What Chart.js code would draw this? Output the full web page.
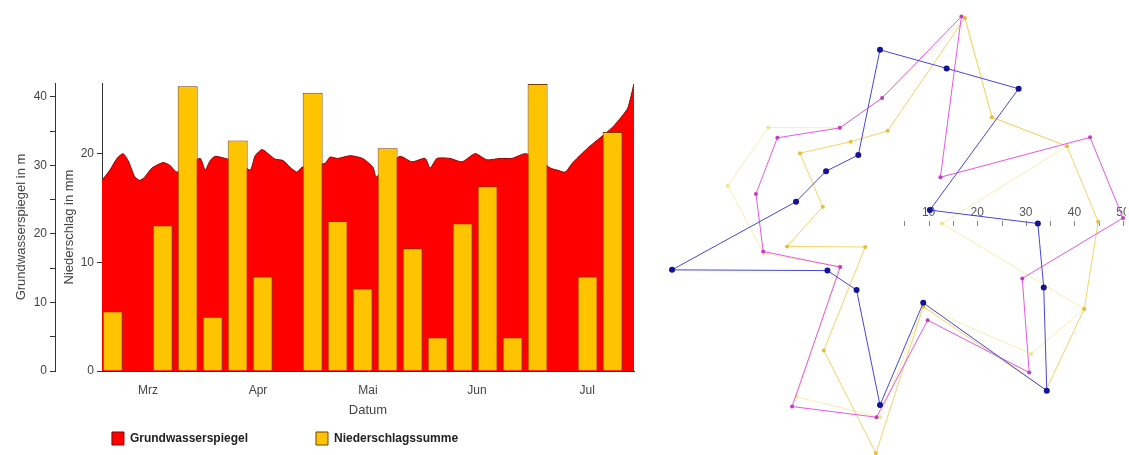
<!DOCTYPE html>
<html lang="de">
<head>
<meta charset="UTF-8">
<title>Grundwasserspiegel und Niederschlag</title>
<script src="https://cdn.jsdelivr.net/npm/chart.js"></script>
<style>
  body { margin: 0; background: #fff; width: 1129px; height: 455px; overflow: hidden; position: relative; }
  #left { position: absolute; left: 0; top: 0; width: 645px; height: 455px; }
  #right { position: absolute; left: 634px; top: -25px; width: 492px; height: 486px; }
</style>
</head>
<body>
<div id="left"><canvas id="levelChart"></canvas></div>
<div id="right"><canvas id="radarChart"></canvas></div>
<script>
// left chart, x = days since start of record
const monthLabels = ["Mrz", "Apr", "Mai", "Jun", "Jul"];
const monthDays = [12.9, 43.7, 74.5, 105, 135.9];
const levelTicks = [0, 5, 10, 15, 20, 25, 30, 35, 40];
const rainTicks = [0, 10, 20];

const rainDays = [3, 10, 17, 24, 31, 38, 45, 52, 59, 66, 73, 80, 87, 94, 101, 108, 115, 122, 129, 136, 143];
const rainSums = [5.5, 0, 13.4, 26.2, 5, 21.2, 8.7, 0, 25.6, 13.8, 7.6, 20.5, 11.3, 3.1, 13.6, 17, 3.1, 26.4, 0, 8.7, 22];

const levelDays = [0, 2.2, 4.2, 5.9, 7.3, 9.2, 10.6, 12, 14, 17.1, 19, 21, 24, 27.5, 28.9, 30.3, 31.7, 34.5, 38, 41.5,
  42.9, 44.8, 46.5, 48.5, 50.7, 52.7, 54.6, 56, 59, 62.5, 63.9, 66, 69.5, 73, 75.9, 76.8, 80, 83.5, 86.8, 90.5,
  91.9, 93.8, 97.5, 100.8, 104.5, 107.8, 111.5, 114.8, 118.5, 122, 125.5, 127.5, 129.7, 131.7, 133, 136, 139.5, 142.9, 145.7, 147.3, 149];
const levelValues = [27.8, 29.3, 31, 31.7, 30.7, 28.3, 27.8, 28.3, 29.6, 30.4, 30, 29, 30, 31, 29.3, 30.7, 31.3, 31, 30.5, 29.3,
  31.4, 32.3, 31.7, 30.9, 30.7, 29.7, 29, 29.7, 30, 30.3, 31.2, 31, 31.4, 31, 29.7, 28.3, 30, 31.3, 30.5, 31,
  29.6, 31, 31, 30.5, 31.7, 30.8, 31, 31, 31.7, 31, 29.6, 29.3, 29, 30.3, 31, 32.5, 34, 35.5, 37.2, 38.4, 41.9];

// right chart, polar: angle in degrees (clockwise from the right) and radius
const radarTickValues = [10, 20, 30, 40, 50];
const blueAngles = [2, 23, 46, 63, 90, 108, 135, 166, 191, 221, 251, 270, 294, 317, 351];
const blueValues = [32.5, 36.6, 49.4, 19.6, 38.5, 15.6, 15.3, 44.1, 17.6, 14.7, 13.7, 34.6, 33.7, 39, 10.4];
const pinkAngles = [0, 23, 46, 65, 91, 115, 129, 164, 191, 218, 246, 271, 292, 326, 339];
const pinkValues = [50, 31.8, 44.2, 23.2, 41, 42.8, 13, 25, 26, 26.8, 20.3, 24.7, 44.7, 15, 46.3];
const goldAngles = [1, 24, 46, 64, 91, 113, 117, 163, 191, 219, 249, 275, 293, 318, 339];
const goldValues = [44.9, 46, 49.2, 20.3, 48.4, 29.6, 6.7, 20, 12, 21.2, 16.8, 18, 44.7, 31, 41.2];
const paleAngles = [5, 24, 42, 64, 90, 115, 130, 163, 192, 219, 246, 271, 293, 318, 339];
const paleValues = [12.8, 46, 41.8, 20.3, 41, 40.6, 13, 25, 32, 29.6, 20.3, 24.7, 44.7, 31, 41.2];

const FONT = '"Liberation Sans", Arial, sans-serif';

new Chart(document.getElementById('levelChart'), {
    type: 'bar',
    data: {
        datasets: [{
            type: 'line',
            label: 'Grundwasserspiegel',
            data: levelDays.map((d, i) => ({ x: d, y: levelValues[i] })),
            yAxisID: 'yLevel',
            order: 1,
            fill: 'origin',
            backgroundColor: '#ff0000',
            borderColor: '#8a0000',
            borderWidth: 1,
            pointRadius: 0,
            tension: 0.2
        }, {
            type: 'bar',
            label: 'Niederschlagssumme',
            data: rainDays.map((d, i) => ({ x: d, y: rainSums[i] })),
            yAxisID: 'yRain',
            order: 0,
            backgroundColor: '#ffc400',
            borderColor: '#7a3c00',
            borderWidth: 1,
            borderSkipped: 'start',
            barPercentage: 0.8,
            categoryPercentage: 1
        }]
    },
    options: {
        animation: false,
        responsive: true,
        maintainAspectRatio: false,
        layout: { padding: { top: 83, right: 11, left: 8, bottom: 0 } },
        scales: {
            x: {
                type: 'linear',
                min: 0,
                max: 149,
                offset: false,
                grid: { display: false },
                border: { color: '#333' },
                afterBuildTicks: s => { s.ticks = monthDays.map(v => ({ value: v })); },
                ticks: {
                    autoSkip: false,
                    maxRotation: 0,
                    padding: 4,
                    color: '#444',
                    font: { family: FONT, size: 12 },
                    callback: (v, i) => monthLabels[i]
                },
                title: { display: true, text: 'Datum', color: '#444', font: { family: FONT, size: 13 }, padding: { top: 1, bottom: 6 } }
            },
            yLevel: {
                position: 'left',
                weight: 1,
                min: 0,
                max: 42,
                afterBuildTicks: s => { s.ticks = levelTicks.map(v => ({ value: v })); },
                afterFit: s => { s.width = 47; },
                grid: { drawOnChartArea: false, tickLength: 5, color: '#333' },
                border: { color: '#333' },
                ticks: {
                    autoSkip: false,
                    padding: 3,
                    color: '#444',
                    font: { family: FONT, size: 12 },
                    callback: v => (v % 10 === 0 ? v : '')
                },
                title: { display: true, text: 'Grundwasserspiegel in m', color: '#444', font: { family: FONT, size: 13 }, padding: { top: 6, bottom: 0 } }
            },
            yRain: {
                position: 'left',
                weight: 0,
                min: 0,
                max: 26.5,
                afterBuildTicks: s => { s.ticks = rainTicks.map(v => ({ value: v })); },
                afterFit: s => { s.width = 47; },
                grid: { drawOnChartArea: false, tickLength: 5, color: '#333' },
                border: { color: '#333' },
                ticks: { autoSkip: false, padding: 3, color: '#444', font: { family: FONT, size: 12 } },
                title: { display: true, text: 'Niederschlag in mm', color: '#444', font: { family: FONT, size: 13 }, padding: { top: 7, bottom: 0 } }
            }
        },
        plugins: {
            tooltip: { enabled: false },
            legend: {
                position: 'bottom',
                labels: {
                    sort: (a, b) => a.datasetIndex - b.datasetIndex,
                    generateLabels: chart => {
                        const items = Chart.defaults.plugins.legend.labels.generateLabels(chart);
                        // widen the cells like the original legend
                        items.forEach(it => { it.text += it.datasetIndex === 0 ? '\u2003'.repeat(5) : '\u2003'.repeat(6); });
                        return items;
                    },
                    boxWidth: 12,
                    boxHeight: 13,
                    padding: 8,
                    color: '#222',
                    font: { family: FONT, size: 12, weight: 'bold' }
                }
            }
        }
    }
});

// radar: one slot per degree, each series only fills its own angles
function polarSeries(angles, values) {
    const arr = new Array(360).fill(null);
    angles.forEach((a, i) => { arr[Math.round(a) % 360] = values[i]; });
    return arr;
}

const radarAxis = {
    id: 'radarAxis',
    beforeDatasetsDraw(chart) {
        const scale = chart.scales.r;
        const ctx = chart.ctx;
        ctx.save();
        ctx.strokeStyle = '#888';
        ctx.lineWidth = 1;
        for (let v = 5; v <= scale.max; v += 5) {
            const p = scale.getPointPositionForValue(0, v);
            ctx.beginPath();
            ctx.moveTo(Math.round(p.x) + 0.5, p.y + 3);
            ctx.lineTo(Math.round(p.x) + 0.5, p.y + 8);
            ctx.stroke();
        }
        ctx.fillStyle = '#555';
        ctx.font = '12px ' + FONT;
        ctx.textAlign = 'center';
        ctx.textBaseline = 'middle';
        radarTickValues.forEach(v => {
            const p = scale.getPointPositionForValue(0, v);
            ctx.fillText(String(v), p.x, p.y - 5);
        });
        ctx.restore();
    }
};

function radarSet(label, angles, values, line, point, radius) {
    return {
        label: label,
        data: polarSeries(angles, values),
        spanGaps: true,
        fill: false,
        borderColor: line,
        borderWidth: 1,
        pointBackgroundColor: point,
        pointBorderColor: point,
        pointRadius: radius,
        pointBorderWidth: 0,
        tension: 0
    };
}

new Chart(document.getElementById('radarChart'), {
    type: 'radar',
    data: {
        labels: Array.from({ length: 360 }, (_, i) => i + '°'),
        datasets: [
            radarSet('Blau', blueAngles, blueValues, '#4646d8', '#12129a', 3),
            radarSet('Magenta', pinkAngles, pinkValues, '#e458e4', '#c838c8', 2),
            radarSet('Gold', goldAngles, goldValues, '#f2d468', '#e6be3c', 2),
            radarSet('Gelb', paleAngles, paleValues, '#f6f0b0', '#efe590', 2)
        ]
    },
    options: {
        animation: false,
        responsive: true,
        maintainAspectRatio: false,
        layout: { padding: 0 },
        plugins: { legend: { display: false }, tooltip: { enabled: false } },
        scales: {
            r: {
                min: 0,
                max: 50,
                startAngle: 90,
                grid: { display: false },
                angleLines: { display: false },
                pointLabels: { display: false },
                ticks: { display: false, stepSize: 10 }
            }
        }
    },
    plugins: [radarAxis]
});
</script>
</body>
</html>
